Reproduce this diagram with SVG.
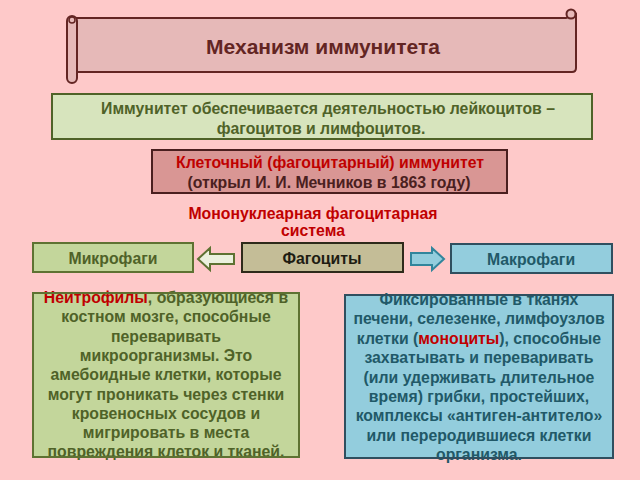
<svg xmlns="http://www.w3.org/2000/svg" width="640" height="480" viewBox="0 0 640 480">
<style>
.t{font-family:"Liberation Sans",Arial,sans-serif;font-weight:bold;text-anchor:middle;font-size:15.8px}
.g{fill:#4F6228}
.b{fill:#215968}
.r{fill:#C00000}
.d{fill:#4A2020}
.gbox{fill:#C3D69B}
.gstr{fill:none;stroke:#5E7232;stroke-width:2}
.bbox{fill:#93CDDD}
.bstr{fill:none;stroke:#2F4F5F;stroke-width:2}
</style>
<rect width="640" height="480" fill="#FEC9C9"/>
<g id="title">
  <path d="M75,18 L566,18 L576,14 L576,68 Q576,72 572,72 L77,72 Z" fill="#E6B9B8" stroke="#632523" stroke-width="2"/>
  <circle cx="571" cy="14" r="4.5" fill="#E6B9B8" stroke="#632523" stroke-width="2"/>
  <rect x="67" y="16" width="10" height="67" rx="5" fill="#E6B9B8" stroke="#632523" stroke-width="2"/>
  <circle cx="72" cy="20" r="3" fill="none" stroke="#632523" stroke-width="1.5"/>
  <text class="t" x="323" y="54" style="font-size:21px" fill="#632523">Механизм иммунитета</text>
</g>
<g id="intro">
  <rect x="52" y="94" width="540" height="45" fill="#D7E4BD" stroke="#4F6228" stroke-width="2"/>
  <text class="t g" x="328" y="114">Иммунитет обеспечивается деятельностью лейкоцитов –</text>
  <text class="t g" x="321" y="134">фагоцитов и лимфоцитов.</text>
</g>
<g id="cellular">
  <rect x="152" y="150" width="355" height="43" fill="#D99694" stroke="#4A1F1F" stroke-width="2"/>
  <text class="t r" x="330" y="168">Клеточный (фагоцитарный) иммунитет</text>
  <text class="t d" x="329" y="188">(открыл И. И. Мечников в 1863 году)</text>
</g>
<g id="mps">
  <text class="t r" x="313" y="219">Мононуклеарная фагоцитарная</text>
  <text class="t r" x="313" y="236">система</text>
</g>
<g id="micro">
  <rect x="33" y="243" width="160" height="29" class="gbox"/>
  <rect x="33" y="243" width="160" height="29" class="gstr"/>
  <text class="t g" x="113" y="263.5">Микрофаги</text>
</g>
<g id="phago">
  <rect x="242" y="243" width="161" height="29" fill="#C4BD97" stroke="#2E2A1A" stroke-width="2"/>
  <text class="t" x="322" y="263.5" fill="#1E1C12">Фагоциты</text>
</g>
<g id="macro">
  <rect x="451" y="244" width="161" height="29" class="bbox"/>
  <rect x="451" y="244" width="161" height="29" class="bstr"/>
  <text class="t b" x="531" y="264.5">Макрофаги</text>
</g>
<g id="connectors">
  <path d="M198,259 L210,248 L210,254 L234,254 L234,264 L210,264 L210,270 Z" fill="#EBF1DE" stroke="#5E7232" stroke-width="2" stroke-linejoin="miter"/>
  <path d="M444,259 L432,248 L432,253 L411,253 L411,265 L432,265 L432,270 Z" fill="#93CDDD" stroke="#31859C" stroke-width="2"/>
</g>
<g id="neutro">
  <rect x="33" y="293" width="266" height="164" class="gbox"/>
  <g class="t g">
    <text x="166" y="303"><tspan class="r">Неитрофилы</tspan>, образующиеся в</text>
    <text x="166" y="322.3">костном мозге, способные</text>
    <text x="166" y="341.6">переваривать</text>
    <text x="166" y="360.9">микроорганизмы. Это</text>
    <text x="166" y="380.2">амебоидные клетки, которые</text>
    <text x="166" y="399.5">могут проникать через стенки</text>
    <text x="166" y="418.8">кровеносных сосудов и</text>
    <text x="166" y="438.1">мигрировать в места</text>
    <text x="166" y="457.4">повреждения клеток и тканей.</text>
  </g>
  <rect x="33" y="293" width="266" height="164" class="gstr"/>
</g>
<g id="mono">
  <rect x="345" y="295" width="268" height="163" class="bbox"/>
  <g class="t b">
    <text x="479" y="305">Фиксированные в тканях</text>
    <text x="479" y="324.4">печени, селезенке, лимфоузлов</text>
    <text x="479" y="343.8">клетки (<tspan class="r">моноциты</tspan>), способные</text>
    <text x="479" y="363.2">захватывать и переваривать</text>
    <text x="479" y="382.6">(или удерживать длительное</text>
    <text x="479" y="402">время) грибки, простейших,</text>
    <text x="479" y="421.4">комплексы «антиген-антитело»</text>
    <text x="479" y="440.8">или переродившиеся клетки</text>
    <text x="479" y="460.2">организма.</text>
  </g>
  <rect x="345" y="295" width="268" height="163" class="bstr"/>
</g>
</svg>
